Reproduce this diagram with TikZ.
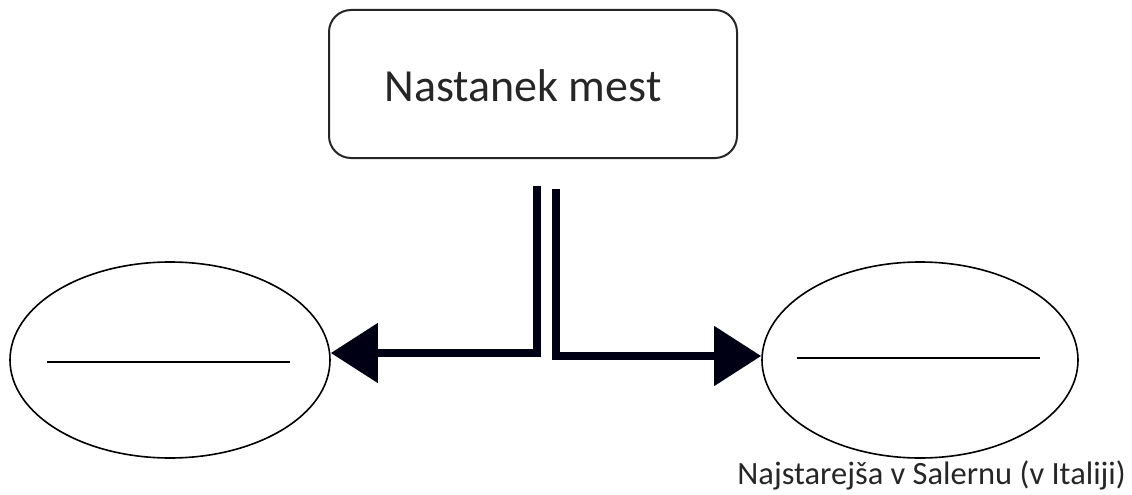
\documentclass[tikz,border=0pt]{standalone}
\usepackage{fontspec}
\setmainfont{Carlito}
\usetikzlibrary{arrows.meta,shapes.geometric}
\begin{document}
\begin{tikzpicture}[x=1pt,y=-1pt,
  titlebox/.style={draw=black!85,line width=2pt,rounded corners=22pt,minimum width=408pt,minimum height=148pt,inner sep=0pt},
  titletext/.style={font=\fontsize{46}{56}\selectfont,text=black!85,inner sep=0pt},
  oval/.style={draw=black,line width=1.6pt,ellipse,inner sep=0pt},
  blank/.style={line width=1.6pt},
  conn/.style={line width=8pt,draw=black!92!blue,-{Triangle[length=47pt,width=58pt]}},
  note/.style={font=\fontsize{32.5}{38}\selectfont,text=black!85,inner sep=0pt}]
\useasboundingbox (0,0) rectangle (1132,495);
\node[titlebox] (title) at (533,84) {};
\node[titletext] (titlelabel) at (523,86) {Nastanek mest};
\node[oval,minimum width=320pt,minimum height=196pt] (left) at (170,360) {};
\node[oval,minimum width=316pt,minimum height=196pt] (right) at (920,360) {};
\draw[blank] ([xshift=-123pt,yshift=-2pt]left.center) -- ([xshift=120pt,yshift=-2pt]left.center);
\draw[blank] ([xshift=-123pt,yshift=2pt]right.center) -- ([xshift=120pt,yshift=2pt]right.center);
\coordinate (ls) at (537,186);
\coordinate (rs) at (556,189);
\draw[conn] (ls) |- ([yshift=7pt]left.east);
\draw[conn] (rs) |- ([yshift=4pt]right.west);
\node[note,anchor=north east] (lab) at (1126,461) {Najstarejša v Salernu (v Italiji)};
\end{tikzpicture}
\end{document}
